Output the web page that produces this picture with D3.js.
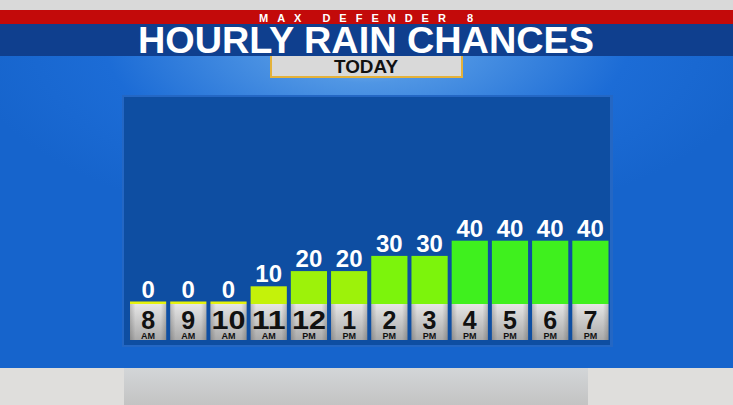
<!DOCTYPE html>
<html>
<head>
<meta charset="utf-8">
<script src="https://cdn.jsdelivr.net/npm/d3@7"></script>
<style>
  html, body { margin: 0; padding: 0; background: #d6d6d6; }
  svg { display: block; }
</style>
</head>
<body>
<svg id="chart" width="733" height="405"></svg>
<script>
var hours = ["8", "9", "10", "11", "12", "1", "2", "3", "4", "5", "6", "7"];
var ampm = ["AM", "AM", "AM", "AM", "PM", "PM", "PM", "PM", "PM", "PM", "PM", "PM"];
var chances = [0, 0, 0, 10, 20, 20, 30, 30, 40, 40, 40, 40];
var barColors = {0: "#e6f20c", 10: "#c4f20a", 20: "#9df20a", 30: "#7cf40c", 40: "#3ff01e"};

var svg = d3.select("#chart"),
    W = 733, H = 405;

var defs = svg.append("defs");

// sky glow
var glow = defs.append("radialGradient").attr("id", "glow")
    .attr("cx", 0.5).attr("cy", 0.05).attr("r", 0.55);
glow.append("stop").attr("offset", "0%").attr("stop-color", "#a6ccf2");
glow.append("stop").attr("offset", "22%").attr("stop-color", "#5096e4");
glow.append("stop").attr("offset", "65%").attr("stop-color", "#1c6cd6");
glow.append("stop").attr("offset", "100%").attr("stop-color", "#1664cc");

var tile = defs.append("linearGradient").attr("id", "tile")
    .attr("x1", 0).attr("y1", 0).attr("x2", 0).attr("y2", 1);
tile.append("stop").attr("offset", "0%").attr("stop-color", "#e6e6e6");
tile.append("stop").attr("offset", "100%").attr("stop-color", "#a9a9a9");

var tileSide = defs.append("linearGradient").attr("id", "tileSide")
    .attr("x1", 0).attr("y1", 0).attr("x2", 1).attr("y2", 0);
tileSide.append("stop").attr("offset", "0%").attr("stop-color", "#000").attr("stop-opacity", 0.18);
tileSide.append("stop").attr("offset", "15%").attr("stop-color", "#000").attr("stop-opacity", 0);
tileSide.append("stop").attr("offset", "85%").attr("stop-color", "#000").attr("stop-opacity", 0);
tileSide.append("stop").attr("offset", "100%").attr("stop-color", "#000").attr("stop-opacity", 0.18);

var floor = defs.append("linearGradient").attr("id", "floor")
    .attr("x1", 0).attr("y1", 0).attr("x2", 0).attr("y2", 1);
floor.append("stop").attr("offset", "0%").attr("stop-color", "#d3d6d8");
floor.append("stop").attr("offset", "100%").attr("stop-color", "#c3c3c3");

// background
svg.append("rect").attr("width", W).attr("height", H).attr("fill", "#dcdcdc");
svg.append("rect").attr("x", 0).attr("y", 24).attr("width", W).attr("height", 344)
    .attr("fill", "url(#glow)");
svg.append("rect").attr("x", 0).attr("y", 368).attr("width", W).attr("height", 37)
    .attr("fill", "#dfdedc");
svg.append("rect").attr("x", 124).attr("y", 368).attr("width", 464).attr("height", 37)
    .attr("fill", "url(#floor)");

// header bands
svg.append("rect").attr("x", 0).attr("y", 0).attr("width", W).attr("height", 10).attr("fill", "#d9d9d9");
svg.append("rect").attr("x", 0).attr("y", 10).attr("width", W).attr("height", 14).attr("fill", "#c30a0a");
svg.append("rect").attr("x", 0).attr("y", 24).attr("width", W).attr("height", 32).attr("fill", "#0f3f8e");

svg.append("text")
    .attr("x", 366).attr("y", 22)
    .attr("text-anchor", "middle")
    .attr("font-family", "Liberation Sans, Arial, sans-serif")
    .attr("font-weight", "bold")
    .attr("font-size", 11)
    .attr("fill", "#fff")
    .attr("textLength", 214)
    .attr("lengthAdjust", "spacing")
    .text("MAX DEFENDER 8");

svg.append("text")
    .attr("x", 366).attr("y", 53)
    .attr("text-anchor", "middle")
    .attr("font-family", "Liberation Sans, Arial, sans-serif")
    .attr("font-weight", "bold")
    .attr("font-size", 36)
    .attr("fill", "#fff")
    .attr("textLength", 456)
    .attr("lengthAdjust", "spacingAndGlyphs")
    .text("HOURLY RAIN CHANCES");

// TODAY tab
svg.append("rect").attr("x", 270).attr("y", 56).attr("width", 193).attr("height", 22).attr("fill", "#e4b23a");
svg.append("rect").attr("x", 272).attr("y", 56).attr("width", 189).attr("height", 20).attr("fill", "#d9d9d9");
svg.append("text")
    .attr("x", 366).attr("y", 73)
    .attr("text-anchor", "middle")
    .attr("font-family", "Liberation Sans, Arial, sans-serif")
    .attr("font-weight", "bold")
    .attr("font-size", 17.5)
    .attr("fill", "#111")
    .attr("textLength", 64)
    .attr("lengthAdjust", "spacingAndGlyphs")
    .text("TODAY");

// chart panel
svg.append("rect").attr("x", 122).attr("y", 95).attr("width", 491).attr("height", 252)
    .attr("fill", "#2467c4");
svg.append("rect").attr("x", 124).attr("y", 97).attr("width", 486).attr("height", 248)
    .attr("fill", "#0e4ea2");

var x = d3.scaleBand()
    .domain(d3.range(hours.length))
    .range([130, 608.5])
    .paddingInner(0.1)
    .paddingOuter(0);

var y = d3.scaleLinear().domain([0, 40]).range([301.5, 240.7]);

var tileTop = 304, tileBottom = 340;

var g = svg.append("g");

var cols = g.selectAll("g.col")
    .data(chances)
    .enter().append("g")
    .attr("class", "col");

cols.append("rect")
    .attr("x", function (d, i) { return x(i); })
    .attr("y", function (d) { return y(d); })
    .attr("width", x.bandwidth())
    .attr("height", function (d) { return tileTop - y(d); })
    .attr("fill", function (d) { return barColors[d]; });

cols.append("rect")
    .attr("x", function (d, i) { return x(i); })
    .attr("y", tileTop)
    .attr("width", x.bandwidth())
    .attr("height", tileBottom - tileTop)
    .attr("fill", "url(#tile)");
cols.append("rect")
    .attr("x", function (d, i) { return x(i); })
    .attr("y", tileTop)
    .attr("width", x.bandwidth())
    .attr("height", tileBottom - tileTop)
    .attr("fill", "url(#tileSide)");

cols.append("text")
    .attr("x", function (d, i) { return x(i) + x.bandwidth() / 2; })
    .attr("y", function (d) { return y(d) - 4; })
    .attr("text-anchor", "middle")
    .attr("font-family", "Liberation Sans, Arial, sans-serif")
    .attr("font-weight", "bold")
    .attr("font-size", 24)
    .attr("fill", "#fff")
    .text(function (d) { return d; });

cols.append("text")
    .attr("x", function (d, i) { return x(i) + x.bandwidth() / 2; })
    .attr("y", 328.5)
    .attr("text-anchor", "middle")
    .attr("font-family", "Liberation Sans, Arial, sans-serif")
    .attr("font-weight", "bold")
    .attr("font-size", 25)
    .attr("fill", "#111")
    .each(function (d, i) {
        if (hours[i].length > 1) {
            d3.select(this).attr("textLength", 34).attr("lengthAdjust", "spacingAndGlyphs");
        }
    })
    .text(function (d, i) { return hours[i]; });

cols.append("text")
    .attr("x", function (d, i) { return x(i) + x.bandwidth() / 2; })
    .attr("y", 338.5)
    .attr("text-anchor", "middle")
    .attr("font-family", "Liberation Sans, Arial, sans-serif")
    .attr("font-weight", "bold")
    .attr("font-size", 9)
    .attr("fill", "#111")
    .text(function (d, i) { return ampm[i]; });
</script>
</body>
</html>
